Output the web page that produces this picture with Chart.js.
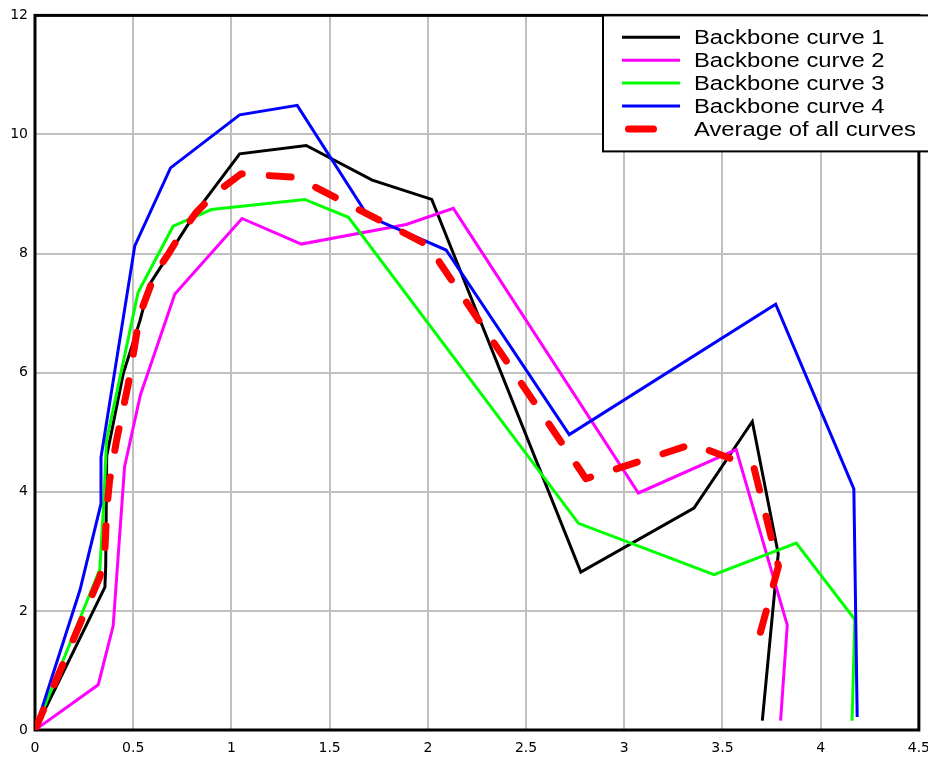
<!DOCTYPE html>
<html>
<head>
<meta charset="utf-8">
<script src="https://cdn.jsdelivr.net/npm/chart.js@4.4.1/dist/chart.umd.min.js"></script>
<style>
  html, body { margin: 0; padding: 0; overflow: hidden; background: #fff; width: 928px; height: 758px; }
  #wrap { position: absolute; left: 0; top: 0; width: 940px; height: 758px; }
  canvas { display: block; }
</style>
</head>
<body>
<div id="wrap"><canvas id="c" width="940" height="758"></canvas></div>
<script>
// Series names
const seriesLabels = ['Backbone curve 1', 'Backbone curve 2', 'Backbone curve 3', 'Backbone curve 4', 'Average of all curves'];

// Backbone curve 1
const curve1X = [0, 0.356, 0.36, 0.365, 0.449, 0.534, 0.585, 0.822, 1.042, 1.381, 1.717, 2.020, 2.779, 3.355, 3.652, 3.784, 3.703];
const curve1Y = [0, 2.40, 2.75, 4.60, 5.98, 6.87, 7.49, 8.71, 9.675, 9.815, 9.234, 8.91, 2.653, 3.726, 5.18, 2.96, 0.156];

// Backbone curve 2
const curve2X = [0, 0.322, 0.398, 0.456, 0.537, 0.712, 1.054, 1.356, 1.890, 2.130, 3.072, 3.570, 3.830, 3.796];
const curve2Y = [0, 0.76, 1.75, 4.42, 5.63, 7.32, 8.59, 8.16, 8.49, 8.76, 3.98, 4.71, 1.76, 0.156];

// Backbone curve 3
const curve3X = [0, 0.33, 0.35, 0.364, 0.525, 0.703, 0.898, 1.373, 1.596, 2.767, 3.457, 3.876, 4.174, 4.160];
const curve3Y = [0, 2.70, 3.80, 4.86, 7.35, 8.46, 8.74, 8.91, 8.61, 3.47, 2.61, 3.14, 1.855, 0.156];

// Backbone curve 4
const curve4X = [0, 0.229, 0.336, 0.336, 0.508, 0.690, 1.042, 1.335, 1.695, 2.093, 2.720, 3.771, 4.169, 4.186];
const curve4Y = [0, 2.35, 3.80, 4.58, 8.13, 9.44, 10.33, 10.49, 8.63, 8.06, 4.96, 7.15, 4.05, 0.22];

// Average of all curves
const averageX = [0, 0.33, 0.355, 0.365, 0.38, 0.415, 0.475, 0.534, 0.61, 0.68, 0.74, 0.82, 0.92, 1.05, 1.33, 2.025, 2.06, 2.805, 3.347, 3.66, 3.785, 3.69];
const averageY = [0, 2.57, 2.95, 3.70, 4.19, 4.86, 5.81, 6.98, 7.65, 8.00, 8.32, 8.69, 9.02, 9.34, 9.28, 8.10, 7.85, 4.22, 4.80, 4.41, 2.75, 1.60];

// Axis ranges
const xRange = [0, 4.5], xStep = 0.5;
const yRange = [0, 12], yStep = 2;

const zip = (xs, ys) => xs.map((x, i) => ({ x: x, y: ys[i] }));

const lineColors = ['#000000', '#ff00ff', '#00ff00', '#0000ff', '#ff0000'];

const datasets = [
  { label: seriesLabels[0], data: zip(curve1X, curve1Y), borderColor: lineColors[0], borderWidth: 3, order: 4 },
  { label: seriesLabels[1], data: zip(curve2X, curve2Y), borderColor: lineColors[1], borderWidth: 3, order: 3 },
  { label: seriesLabels[2], data: zip(curve3X, curve3Y), borderColor: lineColors[2], borderWidth: 3, order: 2 },
  { label: seriesLabels[3], data: zip(curve4X, curve4Y), borderColor: lineColors[3], borderWidth: 3, order: 1 },
  { label: seriesLabels[4], data: zip(averageX, averageY), borderColor: lineColors[4], borderWidth: 7,
    borderDash: [22, 27], borderCapStyle: 'round', borderJoinStyle: 'round', order: 0 }
];

// Black frame around the plotting area, drawn under the curves
const framePlugin = {
  id: 'frame',
  beforeDatasetsDraw(chart) {
    const { ctx, chartArea: a } = chart;
    ctx.save();
    ctx.strokeStyle = '#000';
    ctx.lineWidth = 3;
    ctx.strokeRect(a.left, a.top, a.right - a.left, a.bottom - a.top);
    ctx.restore();
  }
};

// Boxed legend in the upper right corner
const boxLegendPlugin = {
  id: 'boxLegend',
  afterDraw(chart) {
    const { ctx, chartArea: a } = chart;
    const boxX = 603, boxY = a.top, boxH = 136;
    ctx.save();
    ctx.fillStyle = '#fff';
    ctx.fillRect(boxX, boxY, 340, boxH);
    ctx.strokeStyle = '#000';
    ctx.lineWidth = 2;
    ctx.strokeRect(boxX, boxY, 340, boxH);
    chart.data.datasets.forEach((ds, i) => {
      const y = 37.3 + i * 22.9;
      ctx.strokeStyle = ds.borderColor;
      ctx.setLineDash([]);
      ctx.beginPath();
      if (ds.borderDash) {
        ctx.lineWidth = ds.borderWidth;
        ctx.lineCap = 'round';
        ctx.moveTo(628.5, y);
        ctx.lineTo(653.5, y);
      } else {
        ctx.lineWidth = ds.borderWidth;
        ctx.lineCap = 'butt';
        ctx.moveTo(622, y);
        ctx.lineTo(680, y);
      }
      ctx.stroke();
      ctx.save();
      ctx.translate(694, y + 7.1);
      ctx.scale(1.19, 1);
      ctx.fillStyle = '#000';
      ctx.font = '20px "Liberation Sans", Arial, sans-serif';
      ctx.textBaseline = 'alphabetic';
      ctx.textAlign = 'left';
      ctx.fillText(ds.label, 0, 0);
      ctx.restore();
    });
    ctx.restore();
  }
};

const tickFont = { family: '"DejaVu Sans", sans-serif', size: 14 };

new Chart(document.getElementById('c'), {
  type: 'line',
  data: { datasets: datasets },
  plugins: [framePlugin, boxLegendPlugin],
  options: {
    responsive: false,
    animation: false,
    devicePixelRatio: 1,
    layout: { padding: { top: 14, right: 20, left: 0, bottom: 0 } },
    elements: {
      point: { radius: 0, hoverRadius: 0 },
      line: { tension: 0, fill: false }
    },
    plugins: {
      legend: { display: false },
      tooltip: { enabled: false }
    },
    scales: {
      x: {
        type: 'linear',
        min: xRange[0], max: xRange[1],
        afterFit(scale) { scale.height = 28; },
        ticks: { stepSize: xStep, font: tickFont, color: '#000', padding: 10, maxRotation: 0, autoSkip: false,
                 callback: v => String(v) },
        grid: { color: '#c0c0c0', lineWidth: 2, drawTicks: false },
        border: { display: false }
      },
      y: {
        type: 'linear',
        min: yRange[0], max: yRange[1],
        afterFit(scale) { scale.width = 35; },
        ticks: { stepSize: yStep, font: tickFont, color: '#000', padding: 7, callback: v => String(v) },
        grid: { color: '#c0c0c0', lineWidth: 2, drawTicks: false },
        border: { display: false }
      }
    }
  }
});
</script>
</body>
</html>
